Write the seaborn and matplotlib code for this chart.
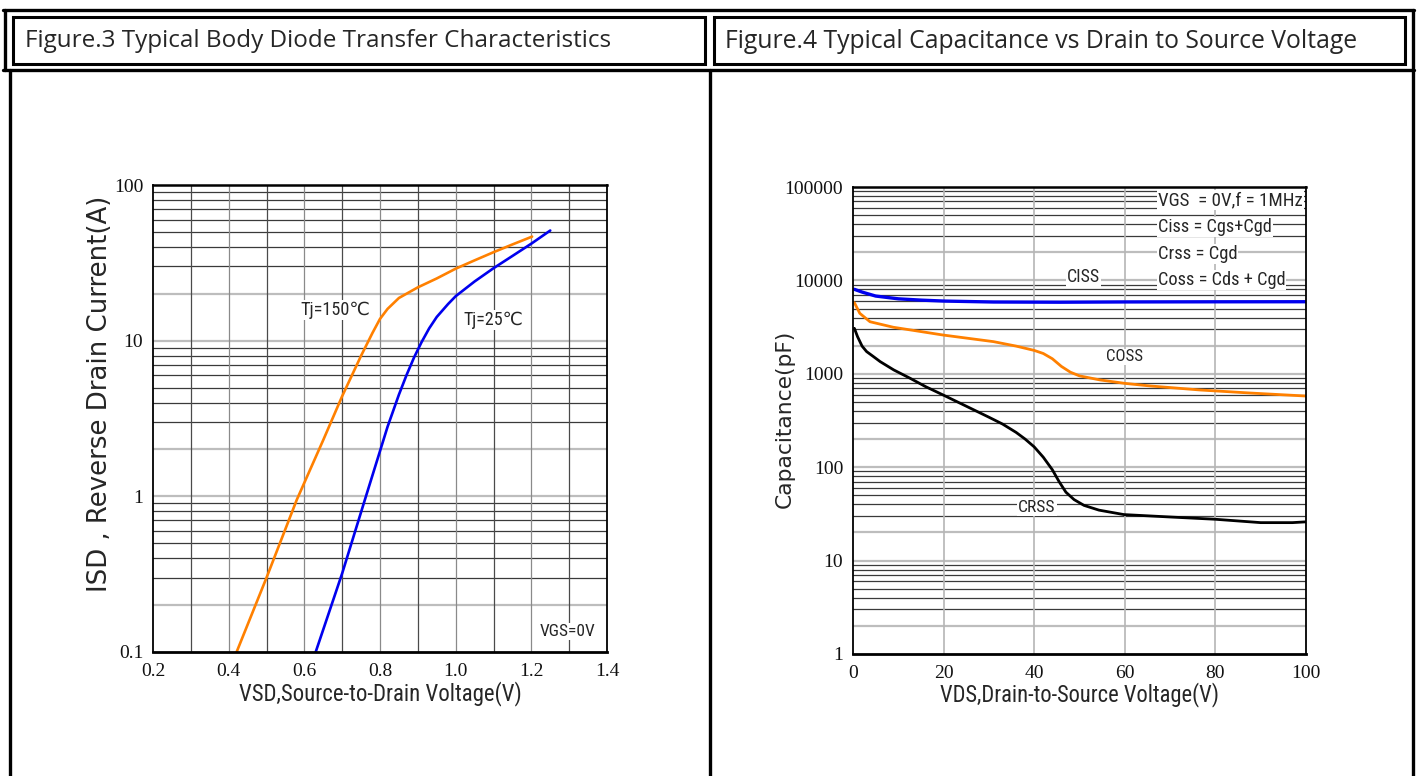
import matplotlib
matplotlib.use("Agg")
import matplotlib.pyplot as plt
import seaborn as sns
import numpy as np
from matplotlib import font_manager
from matplotlib.patches import Rectangle
from matplotlib.lines import Line2D
from matplotlib.ticker import LogLocator, NullFormatter

# ---------------- data ----------------
vsd_150 = [0.421, 0.50, 0.58, 0.65, 0.70, 0.75, 0.78, 0.80, 0.82, 0.85, 0.90, 0.95, 1.00, 1.05, 1.10, 1.15, 1.202]
isd_150 = [0.10, 0.30, 0.95, 2.3, 4.4, 8.0, 11.2, 13.8, 16.0, 18.8, 22.0, 25.1, 29.0, 32.8, 37.0, 41.5, 46.6]
vsd_25 = [0.63, 0.70, 0.76, 0.82, 0.85, 0.87, 0.89, 0.91, 0.93, 0.95, 0.98, 1.00, 1.05, 1.10, 1.15, 1.20, 1.25]
isd_25 = [0.10, 0.32, 0.95, 2.8, 4.5, 6.0, 7.8, 9.8, 12.0, 14.2, 17.2, 19.3, 24.0, 29.2, 35.0, 42.0, 51.0]

vds_ciss = [0.3, 2, 5, 10, 15, 20, 31, 45.7, 60, 80, 100]
ciss = [8030, 7500, 6800, 6350, 6150, 6010, 5870, 5840, 5880, 5900, 5910]
vds_coss = [0.3, 1.5, 3.75, 8.9, 19.9, 31, 36, 40, 42, 44, 46, 48, 50, 54.5, 60, 65.6, 76.6, 87.6, 100]
coss = [5780, 4440, 3610, 3150, 2600, 2210, 1980, 1780, 1650, 1450, 1200, 1040, 950, 860, 790, 741, 671, 623, 578]
vds_crss = [0.3, 1, 2, 3, 4.5, 6, 9, 12.6, 16, 20, 25, 30, 33, 36, 38, 40, 42, 44, 45.5, 47, 48.8, 51,
            54.3, 59.8, 70, 80, 90, 97, 100]
crss = [3070, 2500, 1980, 1730, 1530, 1350, 1100, 896, 730, 590, 450, 343, 290, 236, 200, 165, 128, 94, 70,
        54, 45, 39, 34.7, 31.1, 29.3, 27.7, 25.5, 25.5, 26.0]

left_xticks = [0.2, 0.4, 0.6, 0.8, 1.0, 1.2, 1.4]
left_xticklabels = ["0.2", "0.4", "0.6", "0.8", "1.0", "1.2", "1.4"]
left_yticks = [0.1, 1, 10, 100]
left_yticklabels = ["0.1", "1", "10", "100"]
right_xticks = [0, 20, 40, 60, 80, 100]
right_xticklabels = ["0", "20", "40", "60", "80", "100"]
right_yticks = [1, 10, 100, 1000, 10000, 100000]
right_yticklabels = ["1", "10", "100", "1000", "10000", "100000"]

title_left = "Figure.3 Typical Body Diode Transfer Characteristics"
title_right = "Figure.4 Typical Capacitance vs Drain to Source Voltage"
legend_lines = ["VGS  = 0V,f = 1MHz", "Ciss = Cgs+Cgd", "Crss = Cgd", "Coss = Cds + Cgd"]

# ---------------- style ----------------
sns.set_style("white")
avail = {f.name for f in font_manager.fontManager.ttflist}
def pick(*names):
    for n in names:
        if n in avail:
            return n
    return "DejaVu Sans"
NARROW = pick("Liberation Sans Narrow", "Roboto Condensed", "Liberation Sans")
SERIF = pick("Liberation Serif", "DejaVu Serif")
TITLE = pick("Open Sans", "Noto Sans", "DejaVu Sans")
WIDE = pick("DejaVu Sans", "Noto Sans")
plt.rcParams['font.family'] = [NARROW, 'DejaVu Sans']

W, H = 1420, 776
fig = plt.figure(figsize=(W / 100, H / 100), dpi=100)
fig.patch.set_facecolor("white")
renderer = fig.canvas.get_renderer()

def fx(px):
    return px / W
def fy(py):
    return 1 - py / H

def fit(t, target, vertical=False):
    bb = t.get_window_extent(renderer)
    cur = bb.height if vertical else bb.width
    if cur > 0:
        t.set_fontsize(t.get_fontsize() * target / cur)

# ---------------- frames ----------------
LW = 2.4
def hline(x0, x1, y, lw=LW):
    fig.add_artist(Line2D([fx(x0), fx(x1)], [fy(y), fy(y)], transform=fig.transFigure, color="black", lw=lw))
def vline(x, y0, y1, lw=LW):
    fig.add_artist(Line2D([fx(x), fx(x)], [fy(y0), fy(y1)], transform=fig.transFigure, color="black", lw=lw))

hline(3, 1414, 10)
hline(3, 1414, 70)
vline(4.5, 10, 70)
vline(1413, 10, 776)
vline(10, 70, 776)
vline(710, 70, 776)
for (x0, x1) in [(13, 705), (714, 1405)]:
    fig.add_artist(Rectangle((fx(x0), fy(64)), fx(x1) - fx(x0), fy(17) - fy(64),
                             transform=fig.transFigure, fill=False, ec="black", lw=2.2))

t1 = fig.text(fx(25), fy(41), title_left, family=[TITLE, 'DejaVu Sans'], fontsize=15, ha="left", va="center")
fit(t1, 587)
t2 = fig.text(fx(725), fy(41), title_right, family=[TITLE, 'DejaVu Sans'], fontsize=15, ha="left", va="center")
fit(t2, 633)

# ---------------- axes ----------------
axL = fig.add_axes([fx(153), fy(652), fx(607) - fx(153), fy(185) - fy(652)])
axR = fig.add_axes([fx(853), fy(654), fx(1306) - fx(853), fy(187) - fy(654)])

def style_log_axes(ax, ylim, xlim):
    ax.set_yscale("log")
    ax.set_xlim(*xlim)
    ax.set_ylim(*ylim)
    ax.set_axisbelow(True)
    ax.yaxis.set_minor_locator(LogLocator(base=10, subs=np.arange(2, 10)))
    ax.yaxis.set_minor_formatter(NullFormatter())
    ax.tick_params(which="both", length=0)
    ax.tick_params(axis="x", pad=8)
    ax.tick_params(axis="y", pad=7)
    for sp in ax.spines.values():
        sp.set_visible(True)
        sp.set_color("black")
        sp.set_linewidth(1.3)
    ax.spines["bottom"].set_linewidth(2.0)
    ax.spines["top"].set_linewidth(1.8)

def draw_hgrid(ax, decades):
    lo, hi = ax.get_ylim()
    for d in decades:
        for m in range(1, 10):
            v = m * 10.0 ** d
            if v <= lo or v >= hi:
                continue
            if m in (1, 2):
                ax.axhline(v, color="#bdbdbd", lw=1.6, zorder=0.5)
            else:
                ax.axhline(v, color="#3a3a3a", lw=0.9, zorder=0.5)

def style_ticklabels(ax):
    for lab in ax.get_xticklabels() + ax.get_yticklabels():
        lab.set_family(SERIF)
        lab.set_fontsize(14)
        lab.set_color("#111111")

# ---- left chart ----
style_log_axes(axL, (0.1, 100), (0.2, 1.4))
draw_hgrid(axL, [-1, 0, 1])
for i, v in enumerate(np.round(np.arange(0.3, 1.35, 0.1), 2)):
    axL.axvline(v, color="#4a4a4a" if i % 2 == 0 else "#8a8a8a", lw=0.9, zorder=0.5)
sns.lineplot(x=vsd_150, y=isd_150, ax=axL, color="#ff8000", linewidth=1.9, errorbar=None)
sns.lineplot(x=vsd_25, y=isd_25, ax=axL, color="#0000ee", linewidth=1.9, errorbar=None)
axL.set_xticks(left_xticks)
axL.set_xticklabels(left_xticklabels)
axL.set_yticks(left_yticks)
axL.set_yticklabels(left_yticklabels)
axL.yaxis.set_minor_formatter(NullFormatter())
style_ticklabels(axL)

xl = axL.set_xlabel("VSD,Source-to-Drain Voltage(V)", family=[NARROW, 'DejaVu Sans'], fontsize=16)
fit(xl, 282)
xl.set_va("center")
axL.xaxis.set_label_coords(0.5, (652 - 694) / 467)
yl = axL.set_ylabel("ISD , Reverse Drain Current(A)", family=[WIDE], fontsize=17)
fit(yl, 397, vertical=True)
yl.set_va("center")
axL.yaxis.set_label_coords((100 - 153) / 454, (652 - 393.5) / 467)

bx = dict(facecolor="white", edgecolor="none", pad=1.0)
a1 = axL.text(0.681, 15.7, "Tj=150℃", ha="center", va="center", family=[NARROW, 'DejaVu Sans'], fontsize=15, bbox=bx)
fit(a1, 70)
a2 = axL.text(1.10, 13.6, "Tj=25℃", ha="center", va="center", family=[NARROW, 'DejaVu Sans'], fontsize=15, bbox=bx)
fit(a2, 60)
a3 = axL.text(1.295, 0.135, "VGS=0V", ha="center", va="center", family=[NARROW, 'DejaVu Sans'], fontsize=15, bbox=bx)
fit(a3, 56)

# ---- right chart ----
style_log_axes(axR, (1, 100000), (0, 100))
draw_hgrid(axR, [0, 1, 2, 3, 4])
for v in [20, 40, 60, 80]:
    axR.axvline(v, color="#b5b5b5", lw=1.2, zorder=0.5)
sns.lineplot(x=vds_ciss, y=ciss, ax=axR, color="#0000ee", linewidth=2.4, errorbar=None)
sns.lineplot(x=vds_coss, y=coss, ax=axR, color="#ff8000", linewidth=2.0, errorbar=None)
sns.lineplot(x=vds_crss, y=crss, ax=axR, color="black", linewidth=2.0, errorbar=None)
axR.set_xticks(right_xticks)
axR.set_xticklabels(right_xticklabels)
axR.set_yticks(right_yticks)
axR.set_yticklabels(right_yticklabels)
axR.yaxis.set_minor_formatter(NullFormatter())
style_ticklabels(axR)

xr = axR.set_xlabel("VDS,Drain-to-Source Voltage(V)", family=[NARROW, 'DejaVu Sans'], fontsize=16)
fit(xr, 280)
xr.set_va("center")
axR.xaxis.set_label_coords(0.5, (654 - 695) / 467)
yr = axR.set_ylabel("Capacitance(pF)", family=[WIDE], fontsize=17)
fit(yr, 178, vertical=True)
yr.set_va("center")
axR.yaxis.set_label_coords((785 - 853) / 453, (654 - 419) / 467)

bs = dict(facecolor="white", edgecolor="none", pad=0.6)
c1 = axR.text(50.8, 10870, "CISS", ha="center", va="center", family=[NARROW], fontsize=13, bbox=bs)
fit(c1, 33)
c2 = axR.text(60.0, 1514, "COSS", ha="center", va="center", family=[NARROW], fontsize=13, bbox=bs)
fit(c2, 37)
c3 = axR.text(40.6, 36.6, "CRSS", ha="center", va="center", family=[NARROW], fontsize=13, bbox=bs)
fit(c3, 37)

leg_y = [72600, 37300, 19200, 10100]
leg_w = [144, 113, 79, 127]
for s, yv, wv in zip(legend_lines, leg_y, leg_w):
    t = axR.text(67.3, yv, s, ha="left", va="center", family=[NARROW], fontsize=13, bbox=bs)
    fit(t, wv)

fig.savefig("out.png", dpi=100, facecolor="white")
